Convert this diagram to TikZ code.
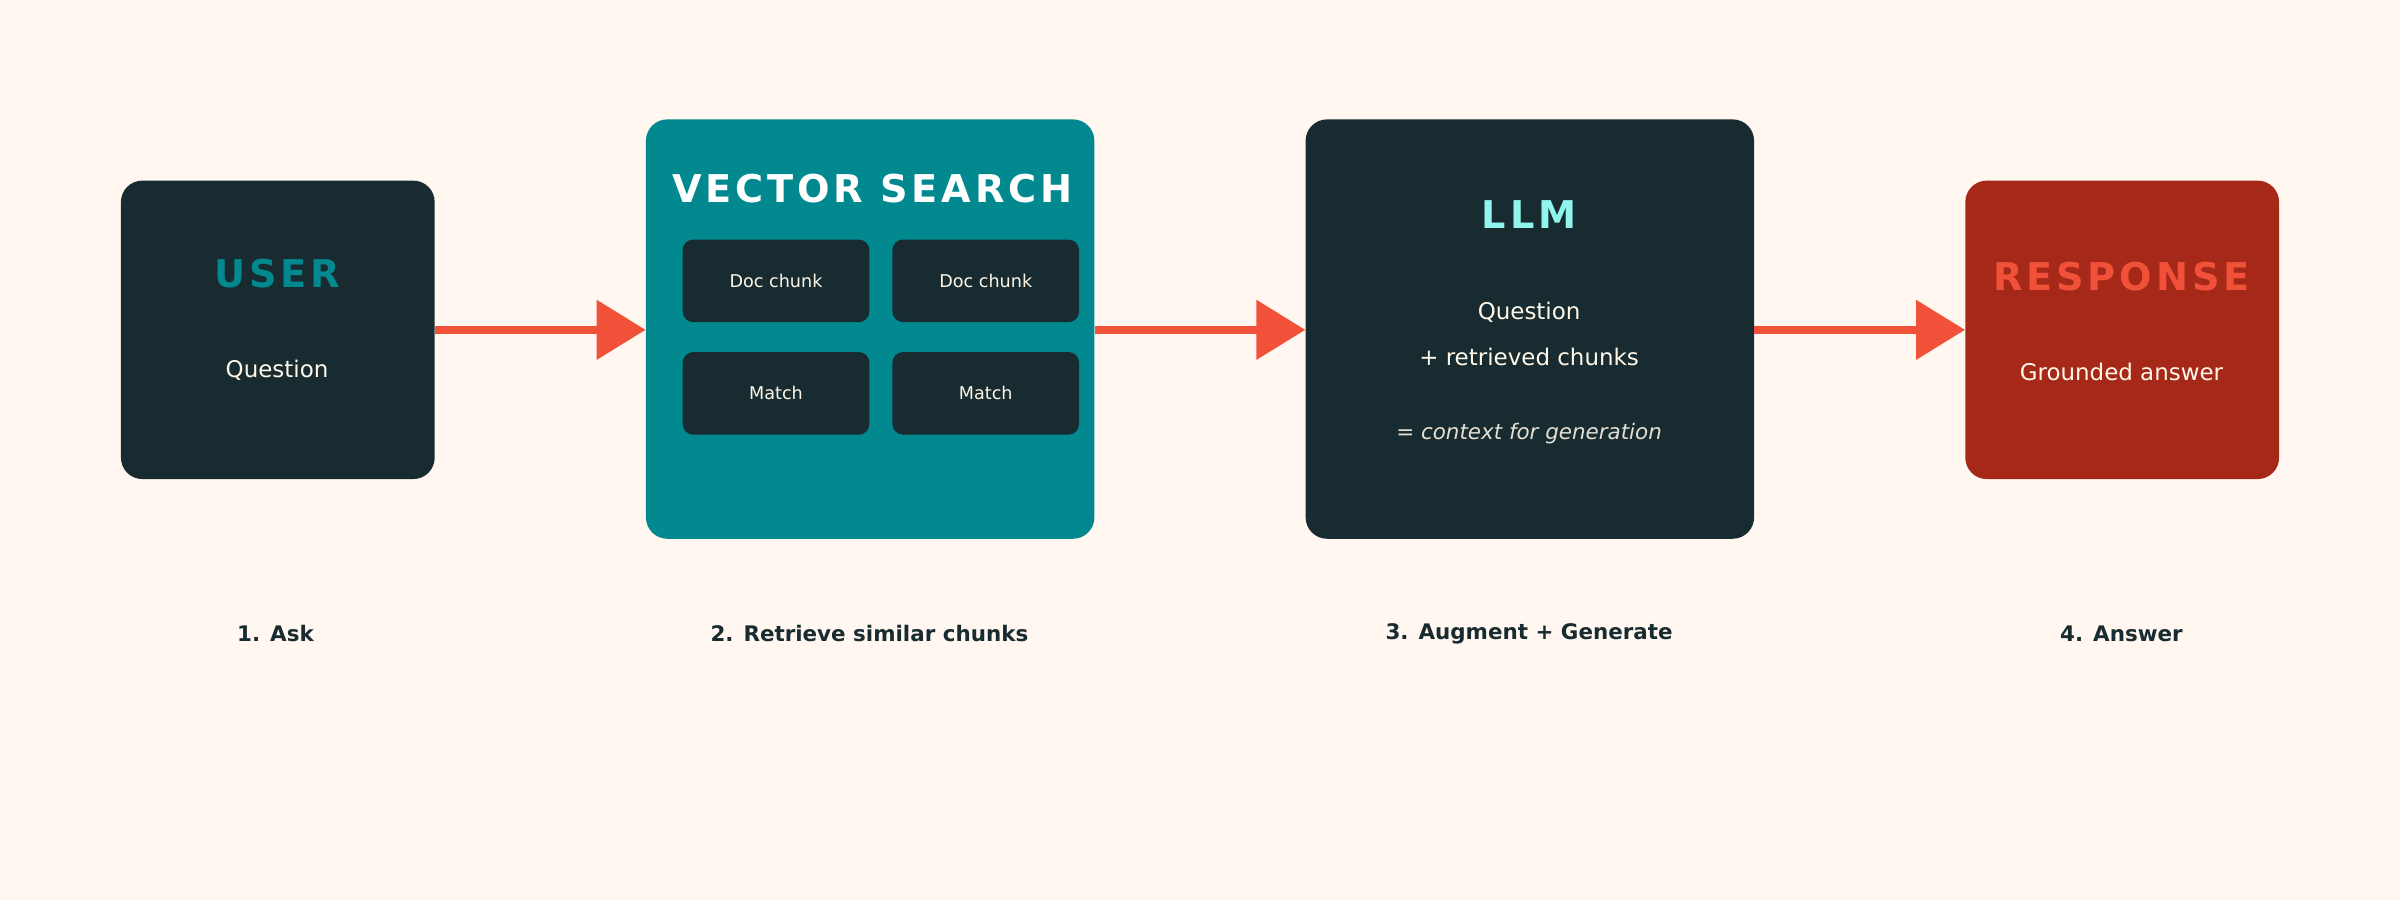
\documentclass[tikz,border=0pt]{standalone}
\usepackage{fontspec}
\setmainfont{DejaVu Sans}
\newfontfamily\spaced[LetterSpace=10]{DejaVu Sans}
\usetikzlibrary{arrows.meta}
\definecolor{bg}{HTML}{FFF7F0}
\definecolor{dark}{HTML}{172B30}
\definecolor{teal}{HTML}{01898F}
\definecolor{red}{HTML}{A52819}
\definecolor{orange}{HTML}{F05138}
\definecolor{cyan}{HTML}{8FF5EE}
\definecolor{cream}{HTML}{FFF7E8}
\begin{document}
\begin{tikzpicture}[x=1pt,y=-1pt,
  box/.style={rounded corners=14pt,inner sep=0pt},
  inner/.style={fill=dark,rounded corners=7pt,minimum width=122pt,minimum height=54pt,inner sep=0pt,text=cream,font=\fontsize{11.5}{13}\selectfont},
  ttl/.style={font=\spaced\bfseries\fontsize{25}{28}\selectfont},
  txt/.style={text=cream,font=\fontsize{15}{18}\selectfont},
  steplbl/.style={text=dark,font=\bfseries\fontsize{14}{16}\selectfont},
  conn/.style={orange,line width=5pt,-{Triangle[length=32pt,width=38pt]}}]
\fill[bg] (0,0) rectangle (1568,588);
\useasboundingbox (0,0) rectangle (1568,588);
\node[box,fill=dark,minimum width=205pt,minimum height=195pt] (user) at (181.5,215.5) {};
\node[ttl,text=teal] (ut) at (181,179) {USER};
\node[txt] (uq) at (181,242) {Question};
\node[box,fill=teal,minimum width=293pt,minimum height=274pt] (vs) at (568.5,215) {};
\node[ttl,text=white] (vt) at (570,123) {VECTOR SEARCH};
\node[inner] (d1) at (507,183.5) {Doc chunk};
\node[inner] (d2) at (644,183.5) {Doc chunk};
\node[inner] (m1) at (507,257) {Match};
\node[inner] (m2) at (644,257) {Match};
\node[box,fill=dark,minimum width=293pt,minimum height=274pt] (llm) at (999.5,215) {};
\node[ttl,text=cyan] (lt) at (999,140) {LLM};
\node[txt] (l1) at (999,204) {Question};
\node[txt] (l2) at (999,233) {+ retrieved chunks};
\node[text=cream!80!gray,font=\itshape\fontsize{14}{16}\selectfont] (l3) at (999,283) {= context for generation};
\node[box,fill=red,minimum width=205pt,minimum height=195pt] (resp) at (1386.5,215.5) {};
\node[ttl,text=orange] (rt) at (1386,181) {RESPONSE};
\node[txt] (rq) at (1386,243) {Grounded answer};
\node[steplbl] (s1) at (180,414) {1. Ask};
\node[steplbl] (s2) at (568,414) {2. Retrieve similar chunks};
\node[steplbl] (s3) at (999,414) {3. Augment + Generate};
\node[steplbl] (s4) at (1386,414) {4. Answer};
\draw[conn] (user.east) -- (vs.west|-user.east);
\draw[conn] (vs.east|-user.east) -- (llm.west|-user.east);
\draw[conn] (llm.east|-user.east) -- (resp.west);
\end{tikzpicture}
\end{document}
